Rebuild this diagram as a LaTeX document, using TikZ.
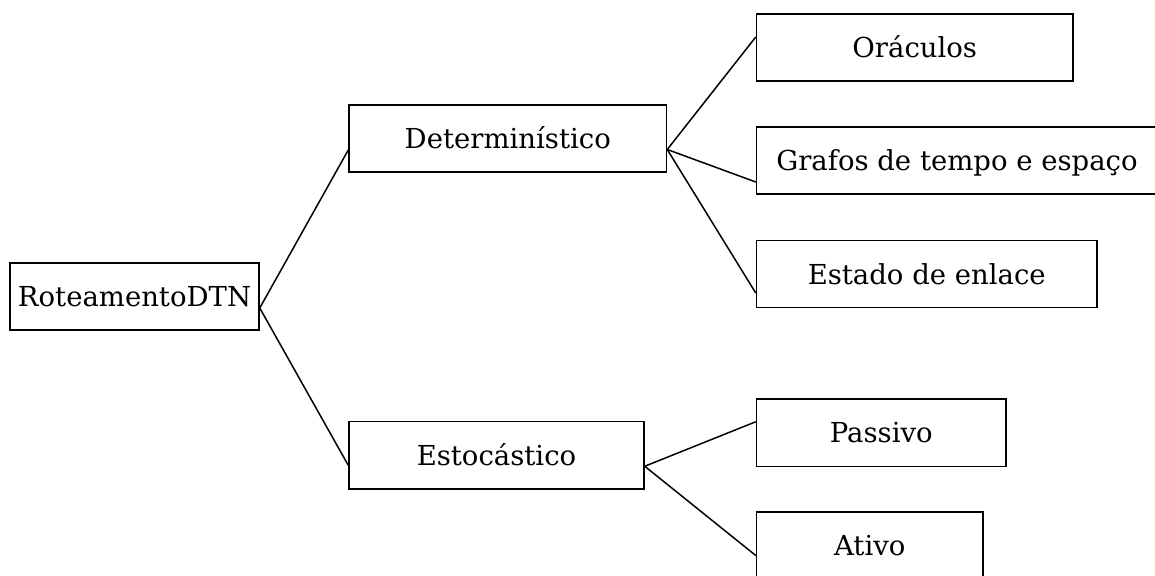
\documentclass[tikz,border=0pt]{standalone}
\usepackage{fontspec}
\setmainfont{DejaVu Serif}
\begin{document}
\begin{tikzpicture}[x=1pt,y=-1pt,
  box/.style={draw, line width=1.5pt, inner sep=0pt, text height=24.75pt, text depth=4.7pt,
    font=\fontsize{27.5}{33}\selectfont},
  link/.style={line width=1.5pt}]
\useasboundingbox (0,0) rectangle (1155,575);
\clip (0,0) rectangle (1155,575);
\node[box, minimum width=249pt, minimum height=67pt] (root) at (134.5,296.5) {RoteamentoDTN};
\node[box, minimum width=317.5pt, minimum height=67pt] (det) at (507.75,138.5) {Determinístico};
\node[box, minimum width=295pt, minimum height=67.5pt] (sto) at (496.5,455.25) {Estocástico};
\node[box, minimum width=316.5pt, minimum height=67pt] (ora) at (914.75,47.5) {Oráculos};
\node[box, minimum width=401pt, minimum height=67pt] (gra) at (957,160.5) {Grafos de tempo e espaço};
\node[box, minimum width=340.5pt, minimum height=67pt] (est) at (926.75,274) {Estado de enlace};
\node[box, minimum width=249.5pt, minimum height=67.5pt] (pas) at (881.25,432.75) {Passivo};
\node[box, minimum width=226.5pt, minimum height=67pt] (ati) at (869.75,545.5) {Ativo};
\draw[link] ([yshift=-11.5pt]root.east) -- ([yshift=-11.5pt]det.west);
\draw[link] ([yshift=-11.5pt]root.east) -- ([yshift=-10pt]sto.west);
\draw[link] ([yshift=-11pt]det.east) -- ([yshift=10.5pt]ora.west);
\draw[link] ([yshift=-11pt]det.east) -- ([yshift=-21.5pt]gra.west);
\draw[link] ([yshift=-11pt]det.east) -- ([yshift=-19pt]est.west);
\draw[link] ([yshift=-11pt]sto.east) -- ([yshift=11pt]pas.west);
\draw[link] ([yshift=-11pt]sto.east) -- ([yshift=-10pt]ati.west);
\end{tikzpicture}
\end{document}
